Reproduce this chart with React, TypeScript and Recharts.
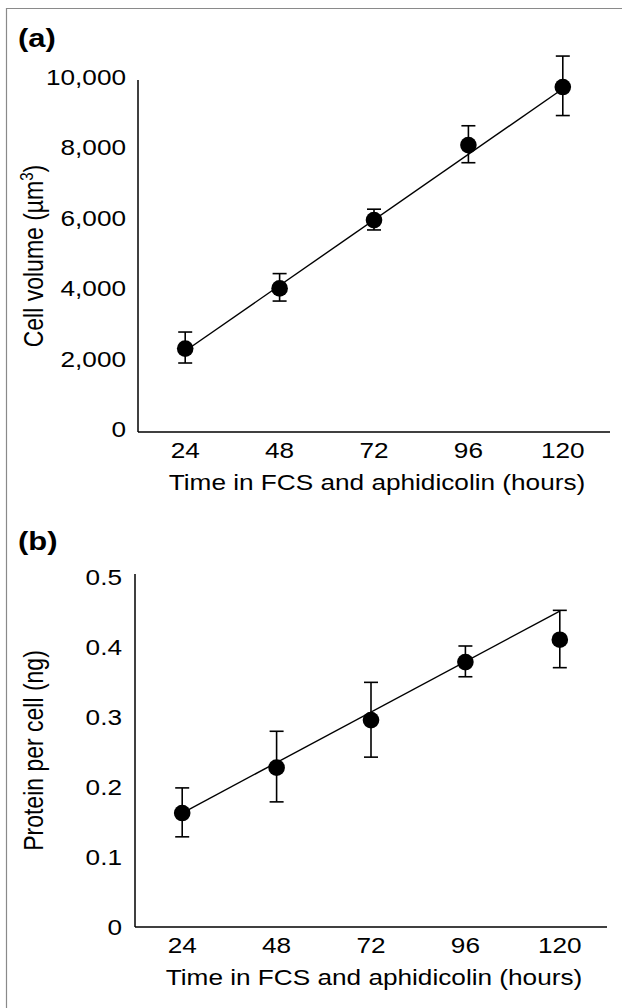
import React from 'react';
import { ComposedChart, Line, XAxis, YAxis, ErrorBar } from 'recharts';

// hours in FCS + aphidicolin
const hours = ['24', '48', '72', '96', '120'];

// (a) cell volume (µm³)
const volumeMean = [2370, 4080, 6020, 8150, 9800];
const volumeLow = [1960, 3720, 5740, 7650, 8990];
const volumeHigh = [2840, 4500, 6330, 8700, 10680];
const volumeFit = [2300, null, null, null, 9750];
const volumeTicks = [0, 2000, 4000, 6000, 8000, 10000];

// (b) protein per cell (ng)
const proteinMean = [0.163, 0.228, 0.296, 0.379, 0.411];
const proteinLow = [0.129, 0.179, 0.243, 0.358, 0.371];
const proteinHigh = [0.199, 0.28, 0.35, 0.402, 0.453];
const proteinFit = [0.163, null, null, null, 0.452];
const proteinTicks = [0, 0.1, 0.2, 0.3, 0.4, 0.5];

const xTitle = 'Time in FCS and aphidicolin (hours)';

const FONT = '"Liberation Sans", Arial, Helvetica, sans-serif';
const STRETCH = 1.19; // the original lettering is a bit wide

const buildRows = (mean: number[], low: number[], high: number[], fit: (number | null)[]) =>
  hours.map((h, i) => ({
    hours: h,
    mean: mean[i],
    err: [mean[i] - low[i], high[i] - mean[i]],
    fit: fit[i],
  }));

const volumeRows = buildRows(volumeMean, volumeLow, volumeHigh, volumeFit);
const proteinRows = buildRows(proteinMean, proteinLow, proteinHigh, proteinFit);

const XTick = ({ x, y, payload }: any) => (
  <text
    transform={`translate(${x} ${y + 26}) scale(${STRETCH} 1)`}
    textAnchor="middle"
    fontSize={22}
    fontFamily={FONT}
    fill="#000"
  >
    {payload.value}
  </text>
);

const makeYTick = (format: (v: number) => string, gap: number, dy: number) => ({ x, y, payload }: any) => (
  <text
    transform={`translate(${x - gap} ${y + dy}) scale(${STRETCH} 1)`}
    textAnchor="end"
    fontSize={22}
    fontFamily={FONT}
    fill="#000"
  >
    {format(payload.value)}
  </text>
);

const XTitle = ({ viewBox }: any) => (
  <text
    transform={`translate(${viewBox.x + viewBox.width / 2 + 3} ${viewBox.y + 58}) scale(${STRETCH} 1)`}
    textAnchor="middle"
    fontSize={22}
    fontFamily={FONT}
    fill="#000"
  >
    {xTitle}
  </text>
);

const makeYTitle = (title: React.ReactNode) => ({ viewBox }: any) => (
  <text
    transform={`translate(43 ${viewBox.y + viewBox.height / 2}) scale(${STRETCH} 1) rotate(-90)`}
    textAnchor="middle"
    fontSize={23}
    fontFamily={FONT}
    fill="#000"
  >
    {title}
  </text>
);

type PanelProps = {
  rows: any[];
  height: number;
  margin: { top: number; right: number; left: number; bottom: number };
  yWidth: number;
  xHeight: number;
  domain: [number, number];
  ticks: number[];
  format: (v: number) => string;
  tickGap: number;
  tickDy: number;
  title: React.ReactNode;
};

function Panel(p: PanelProps) {
  return (
    <ComposedChart width={622} height={p.height} data={p.rows} margin={p.margin}>
      <XAxis
        dataKey="hours"
        scale="band"
        height={p.xHeight}
        tickLine={false}
        tickSize={0}
        tickMargin={0}
        axisLine={{ stroke: '#000', strokeWidth: 1.5 }}
        tick={<XTick />}
        interval={0}
        label={XTitle}
      />
      <YAxis
        width={p.yWidth}
        domain={p.domain}
        allowDataOverflow
        ticks={p.ticks}
        tickLine={false}
        tickSize={0}
        tickMargin={0}
        axisLine={{ stroke: '#000', strokeWidth: 1.5 }}
        tick={makeYTick(p.format, p.tickGap, p.tickDy)}
        label={makeYTitle(p.title)}
      />
      <Line
        dataKey="fit"
        type="linear"
        stroke="#000"
        strokeWidth={1.4}
        dot={false}
        connectNulls
        isAnimationActive={false}
      />
      <Line
        dataKey="mean"
        stroke="none"
        dot={{ r: 8.3, fill: '#000', stroke: 'none', clipDot: false }}
        activeDot={false}
        isAnimationActive={false}
      >
        <ErrorBar dataKey="err" width={7} stroke="#000" strokeWidth={1.6} isAnimationActive={false} />
      </Line>
    </ComposedChart>
  );
}

export default function App() {
  return (
    <div style={{ position: 'absolute', left: 0, top: 0, width: 622, height: 1008, background: '#fff', fontFamily: FONT }}>
      <div style={{ position: 'absolute', left: 0, top: 0 }}>
        <Panel
          rows={volumeRows}
          height={500}
          margin={{ top: 80, right: 12, left: 0, bottom: 0 }}
          yWidth={138}
          xHeight={68}
          domain={[0, 10000]}
          ticks={volumeTicks}
          format={(v) => v.toLocaleString('en-US')}
          tickGap={12}
          tickDy={5}
          title={
            <>
              Cell volume (µm<tspan fontSize={15} dy={-8}>3</tspan>
              <tspan dy={8}>)</tspan>
            </>
          }
        />
      </div>
      <div style={{ position: 'absolute', left: 0, top: 500 }}>
        <Panel
          rows={proteinRows}
          height={508}
          margin={{ top: 74, right: 15, left: 0, bottom: 0 }}
          yWidth={135}
          xHeight={81}
          domain={[0, 0.505]}
          ticks={proteinTicks}
          format={(v) => String(v)}
          tickGap={13}
          tickDy={8}
          title="Protein per cell (ng)"
        />
      </div>
      <svg width={622} height={1008} style={{ position: 'absolute', left: 0, top: 0, pointerEvents: 'none' }}>
        <path d="M6.5 1008 V8.5 H622" fill="none" stroke="#8a8a8a" strokeWidth={1.2} />
        <text transform={`translate(18 46.5) scale(${STRETCH} 1)`} fontSize={26} fontWeight="bold" fontFamily={FONT}>
          (a)
        </text>
        <text transform={`translate(18 549.5) scale(${STRETCH} 1)`} fontSize={26} fontWeight="bold" fontFamily={FONT}>
          (b)
        </text>
      </svg>
    </div>
  );
}
